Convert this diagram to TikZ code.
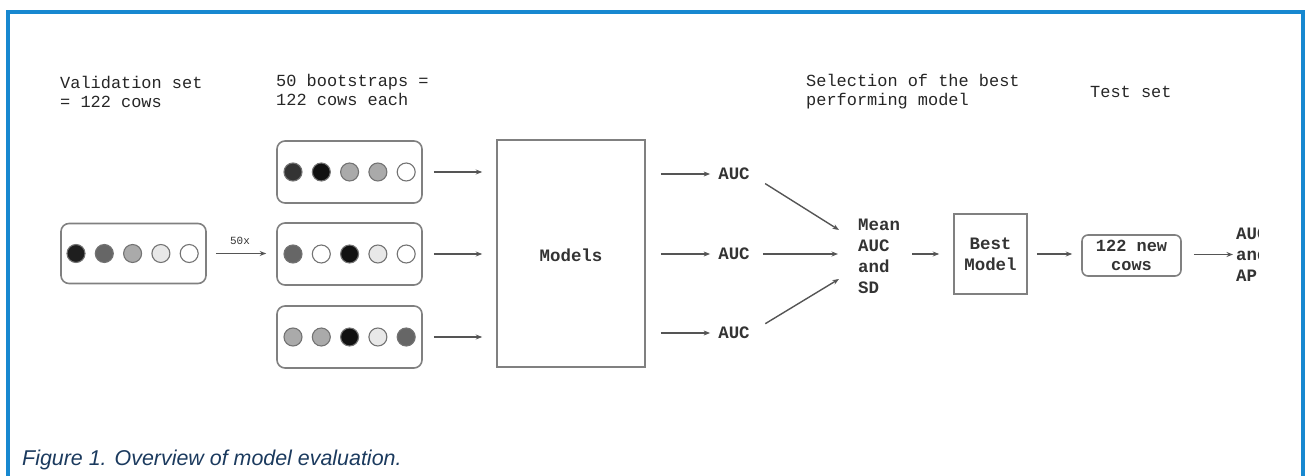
\documentclass[tikz,border=0pt]{standalone}
\usepackage{fontspec}
\setmainfont{Liberation Sans}
\newfontfamily\mono{Liberation Mono}
\usetikzlibrary{arrows.meta}
\definecolor{frameblue}{HTML}{1788D0}
\definecolor{capblue}{HTML}{1B3A5E}
\definecolor{linegray}{HTML}{555555}
\definecolor{boxgray}{HTML}{808080}
\definecolor{kA}{HTML}{1E1E1E}
\definecolor{kB}{HTML}{111111}
\definecolor{kC}{HTML}{666666}
\definecolor{kD}{HTML}{AAAAAA}
\definecolor{kE}{HTML}{E8E8E8}
\definecolor{kF}{HTML}{FFFFFF}
\definecolor{kG}{HTML}{333333}
\begin{document}
\begin{tikzpicture}[x=1bp,y=-1bp,
  frame/.style={draw=frameblue,line width=3.2bp},
  hdr/.style={font=\mono\fontsize{17}{19.5}\selectfont,inner sep=0,align=left,anchor=north west,text=black!85},
  body/.style={font=\mono\bfseries\fontsize{17.5}{21}\selectfont,inner sep=0,text=black!80},
  setbox/.style={draw=boxgray,line width=1.6bp,rounded corners=8bp,inner sep=0},
  sqbox/.style={draw=boxgray,line width=1.6bp,inner sep=0},
  dot/.style={circle,draw=black!55,line width=1.1bp,minimum size=18bp,inner sep=0},
  arr/.style={draw=linegray,line width=1.4bp,-{Stealth[length=6.5bp,width=5bp]}}
]
\useasboundingbox (0,0) rectangle (1309,476);
\draw[frame] (8,476) -- (8,12) -- (1303,12) -- (1303,476);

\begin{scope}
\clip (10,14) rectangle (1258,368);
% headers
\node[hdr] (h1) at (60,76) {Validation set\\= 122 cows};
\node[hdr] (h2) at (276,74) {50 bootstraps =\\122 cows each};
\node[hdr] (h3) at (806,74) {Selection of the best\\performing model};
\node[hdr] (h4) at (1090,86) {Test set};

% validation set
\node[setbox,minimum width=145bp,minimum height=60bp] (b0) at (133.5,253.5) {};
\foreach \c [count=\i] in {kA,kC,kD,kE,kF}
  \node[dot,fill=\c] (v\i) at ({76+28.3*(\i-1)},253.5) {};
\node[font=\mono\fontsize{11}{12}\selectfont,inner sep=0,text=black!80] (fifty) at (240,241) {50x};

% bootstrap sets
\node[setbox,minimum width=145bp,minimum height=62bp] (b1) at (349.5,172) {};
\node[setbox,minimum width=145bp,minimum height=62bp] (b2) at (349.5,254) {};
\node[setbox,minimum width=145bp,minimum height=62bp] (b3) at (349.5,337) {};
\foreach \c [count=\i] in {kG,kB,kD,kD,kF}
  \node[dot,fill=\c] (p\i) at ({293+28.3*(\i-1)},172) {};
\foreach \c [count=\i] in {kC,kF,kB,kE,kF}
  \node[dot,fill=\c] (q\i) at ({293+28.3*(\i-1)},254) {};
\foreach \c [count=\i] in {kD,kD,kB,kE,kC}
  \node[dot,fill=\c] (r\i) at ({293+28.3*(\i-1)},337) {};

% models
\node[sqbox,minimum width=148bp,minimum height=227bp] (mod) at (571,253.5) {};
\node[body] (modt) at (571,255) {Models};

% AUC
\node[body] (a1) at (734,174) {AUC};
\node[body] (a2) at (734,254) {AUC};
\node[body] (a3) at (734,333) {AUC};

% mean
\node[body,align=left,anchor=west] (m) at (858,256) {Mean\\AUC\\and\\SD};
\coordinate (m1) at (839,230);
\coordinate (m2) at (838,254);
\coordinate (m3) at (839,279);

% best model
\node[sqbox,minimum width=73bp,minimum height=80bp] (best) at (990.5,254) {};
\node[body,align=center] (bestt) at (990.5,254) {Best\\Model};

% new cows
\node[setbox,rounded corners=6bp,minimum width=99bp,minimum height=41bp] (new) at (1131.5,255.5) {};
\node[body,align=center,font=\mono\bfseries\fontsize{17}{19}\selectfont] (newt) at (1131.5,255.5) {122 new\\cows};

% result
\node[body,align=left,anchor=west] (res) at (1236,254.5) {AUC\\and\\AP};

% connectors
\draw[arr,shorten <=9bp,shorten >=10bp] (b0.east) -- (b0.east -| b2.west);
\draw[arr,shorten <=11bp,shorten >=14bp] (b1.east) -- (b1.east -| mod.west);
\draw[arr,shorten <=11bp,shorten >=14bp] (b2.east) -- (b2.east -| mod.west);
\draw[arr,shorten <=11bp,shorten >=14bp] (b3.east) -- (b3.east -| mod.west);
\draw[arr,shorten <=15bp,shorten >=8bp] (mod.east |- a1) -- (a1.west);
\draw[arr,shorten <=15bp,shorten >=8bp] (mod.east |- a2) -- (a2.west);
\draw[arr,shorten <=15bp,shorten >=8bp] (mod.east |- a3) -- (a3.west);
\draw[arr,shorten <=18bp] (a1.east) -- (m1);
\draw[arr,shorten <=13bp] (a2.east) -- (m2);
\draw[arr,shorten <=18bp] (a3.east) -- (m3);
\draw[arr,shorten <=12bp,shorten >=14bp] (m.east |- best) -- (best.west);
\draw[arr,shorten <=9bp,shorten >=9bp] (best.east) -- (best.east -| new.west);
\draw[arr,shorten <=12bp,shorten >=3bp] (new.east |- res) -- (res.west);
\end{scope}

% caption
\node[font=\itshape\fontsize{21.5}{23}\selectfont,text=capblue,inner sep=0,anchor=base west] (cap) at (22,465) {Figure 1. Overview of model evaluation.};
\end{tikzpicture}
\end{document}
